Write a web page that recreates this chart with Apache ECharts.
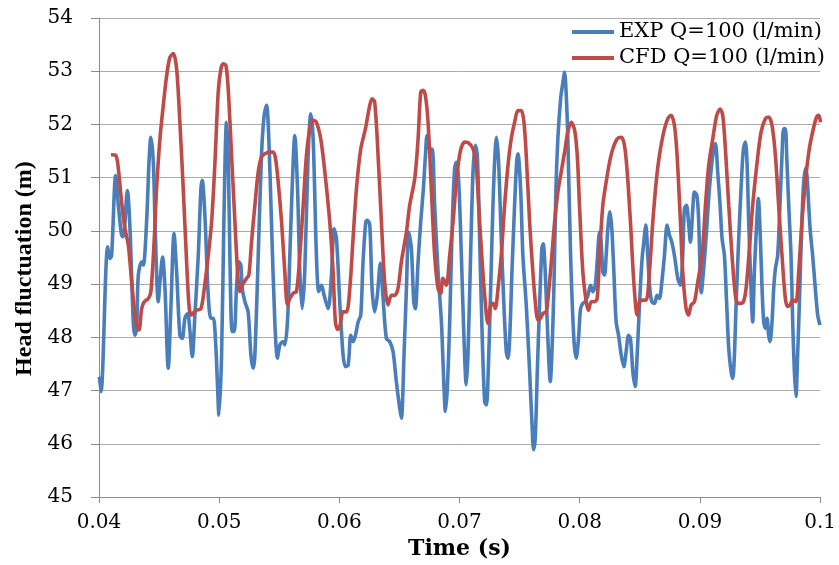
<!DOCTYPE html>
<html><head><meta charset="utf-8">
<script src="https://cdn.jsdelivr.net/npm/echarts@6/dist/echarts.min.js"></script>
<style>html,body{margin:0;padding:0;background:#fff}#c{width:839px;height:565px}</style>
</head><body><div id="c"></div>
<script>
const seriesNames = ['EXP Q=100 (l/min)', 'CFD Q=100 (l/min)'];
const xRange = [0.04, 0.1];
const yRange = [45, 54];

const expTime = [0.04003,0.04017,0.04072,0.04091,0.04105,0.04139,0.04161,0.04188,0.04202,0.04236,0.04258,0.04285,0.04299,0.04313,0.04327,0.04355,0.04369,0.04396,0.04416,0.04432,0.04452,0.04466,0.04493,0.04507,0.04529,0.04549,0.04576,0.04599,0.04624,0.04646,0.04673,0.04693,0.04715,0.04737,0.04757,0.04776,0.04798,0.04826,0.04848,0.04859,0.04881,0.04909,0.04931,0.04951,0.04970,0.04986,0.04998,0.05020,0.05039,0.05061,0.05075,0.05089,0.05108,0.05125,0.05144,0.05164,0.05180,0.05192,0.05214,0.05241,0.05264,0.05283,0.05297,0.05325,0.05352,0.05374,0.05394,0.05413,0.05435,0.05463,0.05485,0.05505,0.05532,0.05546,0.05568,0.05588,0.05607,0.05629,0.05652,0.05671,0.05690,0.05712,0.05740,0.05762,0.05782,0.05809,0.05829,0.05851,0.05873,0.05906,0.05934,0.05956,0.05976,0.06003,0.06031,0.06050,0.06073,0.06095,0.06114,0.06134,0.06156,0.06178,0.06197,0.06220,0.06233,0.06253,0.06272,0.06294,0.06316,0.06341,0.06364,0.06391,0.06419,0.06447,0.06474,0.06502,0.06516,0.06538,0.06558,0.06577,0.06599,0.06619,0.06632,0.06655,0.06677,0.06699,0.06716,0.06729,0.06746,0.06771,0.06793,0.06821,0.06849,0.06871,0.06882,0.06898,0.06918,0.06940,0.06959,0.06973,0.06993,0.07015,0.07037,0.07056,0.07070,0.07092,0.07112,0.07131,0.07148,0.07167,0.07189,0.07209,0.07223,0.07236,0.07259,0.07278,0.07297,0.07308,0.07325,0.07347,0.07369,0.07389,0.07403,0.07417,0.07436,0.07458,0.07475,0.07486,0.07508,0.07527,0.07555,0.07583,0.07602,0.07616,0.07630,0.07647,0.07666,0.07685,0.07696,0.07713,0.07735,0.07755,0.07768,0.07785,0.07802,0.07818,0.07841,0.07860,0.07874,0.07888,0.07901,0.07924,0.07951,0.07971,0.07990,0.08007,0.08026,0.08045,0.08068,0.08090,0.08109,0.08129,0.08145,0.08165,0.08178,0.08192,0.08206,0.08220,0.08234,0.08251,0.08267,0.08284,0.08303,0.08323,0.08345,0.08367,0.08386,0.08406,0.08422,0.08442,0.08461,0.08478,0.08497,0.08517,0.08533,0.08550,0.08566,0.08583,0.08600,0.08622,0.08644,0.08663,0.08683,0.08705,0.08727,0.08747,0.08766,0.08788,0.08816,0.08838,0.08857,0.08871,0.08888,0.08905,0.08921,0.08941,0.08954,0.08974,0.08988,0.09012,0.09029,0.09051,0.09079,0.09107,0.09129,0.09148,0.09168,0.09184,0.09204,0.09223,0.09240,0.09259,0.09273,0.09287,0.09301,0.09323,0.09342,0.09362,0.09378,0.09392,0.09406,0.09425,0.09439,0.09453,0.09473,0.09486,0.09503,0.09517,0.09531,0.09545,0.09558,0.09572,0.09583,0.09600,0.09614,0.09628,0.09647,0.09666,0.09683,0.09697,0.09711,0.09722,0.09739,0.09758,0.09772,0.09786,0.09799,0.09813,0.09827,0.09844,0.09860,0.09877,0.09891,0.09905,0.09919,0.09938,0.09960,0.09980,0.09999];
const expHead = [47.26,46.98,49.70,49.48,49.54,51.04,50.48,49.92,49.89,50.76,50.04,48.29,48.04,48.17,49.17,49.42,49.36,50.17,51.29,51.76,51.29,50.17,48.67,49.04,49.51,48.92,47.42,48.61,49.95,49.23,48.04,47.98,48.36,48.45,48.11,47.64,48.42,49.54,50.79,50.95,50.29,48.79,48.36,48.36,47.92,47.10,46.54,47.67,50.17,52.04,51.42,49.54,48.11,48.11,48.92,49.42,49.36,48.92,48.67,48.48,47.67,47.42,47.67,49.54,51.42,52.17,52.36,51.73,50.17,48.29,47.61,47.86,47.92,47.86,48.29,49.54,50.79,51.79,50.79,49.23,48.54,49.23,51.42,52.20,51.73,49.54,48.86,48.98,48.79,48.54,49.17,50.04,49.85,48.67,47.67,47.45,47.48,48.04,47.92,48.04,48.29,48.42,49.42,50.17,50.20,50.11,48.92,48.48,48.79,49.39,48.73,47.98,47.92,47.73,47.17,46.67,46.48,47.67,48.92,49.98,49.67,48.67,48.54,49.42,50.17,50.79,51.42,51.79,51.54,51.54,50.48,49.23,48.29,47.04,46.61,47.04,48.29,50.17,51.17,51.29,50.92,49.54,47.98,47.11,47.67,49.54,51.11,51.61,51.42,49.86,47.98,46.79,46.73,47.17,48.92,50.48,51.54,51.76,51.29,49.86,48.61,47.73,47.61,47.98,49.23,50.48,51.29,51.45,50.79,49.54,48.61,47.36,46.42,45.89,46.11,47.36,48.61,49.67,49.76,49.23,47.98,47.17,47.67,48.92,50.79,51.73,52.48,52.79,52.98,52.54,51.73,49.54,47.98,47.61,47.98,48.54,48.64,48.67,48.79,48.98,48.86,48.98,49.42,49.98,49.79,49.23,49.17,49.54,50.04,50.36,50.04,49.23,48.29,48.04,47.67,47.45,47.73,48.04,47.98,47.36,47.08,47.67,48.61,49.42,49.79,50.11,49.54,48.92,48.67,48.64,48.79,48.73,49.04,49.54,50.11,49.92,49.79,49.54,49.11,48.98,49.54,50.42,50.48,50.17,49.79,50.42,50.73,50.67,50.29,48.84,49.23,49.86,50.79,51.42,51.64,51.11,50.48,49.86,49.54,48.61,47.79,47.36,47.23,47.67,48.61,49.86,50.79,51.54,51.67,51.29,50.17,48.92,48.29,49.23,50.17,50.61,49.86,48.92,48.29,48.17,48.36,48.04,47.92,48.29,48.92,49.29,49.54,50.48,51.42,51.92,51.92,51.42,50.48,49.54,48.29,47.36,46.89,47.67,48.61,49.86,50.79,51.17,51.04,50.48,49.98,49.54,48.92,48.42,48.23];

const cfdTime = [0.04100,0.04139,0.04161,0.04188,0.04216,0.04244,0.04272,0.04294,0.04313,0.04333,0.04355,0.04377,0.04410,0.04432,0.04460,0.04479,0.04507,0.04535,0.04563,0.04590,0.04618,0.04646,0.04673,0.04701,0.04729,0.04751,0.04770,0.04793,0.04812,0.04848,0.04876,0.04909,0.04937,0.04964,0.04992,0.05014,0.05034,0.05056,0.05075,0.05103,0.05131,0.05153,0.05172,0.05192,0.05228,0.05247,0.05269,0.05297,0.05325,0.05352,0.05380,0.05422,0.05449,0.05469,0.05491,0.05519,0.05546,0.05568,0.05588,0.05616,0.05643,0.05671,0.05699,0.05726,0.05754,0.05782,0.05809,0.05845,0.05879,0.05920,0.05948,0.05967,0.05986,0.06003,0.06031,0.06059,0.06087,0.06114,0.06142,0.06178,0.06217,0.06253,0.06272,0.06294,0.06322,0.06350,0.06377,0.06405,0.06433,0.06461,0.06488,0.06516,0.06558,0.06585,0.06627,0.06655,0.06677,0.06696,0.06716,0.06738,0.06765,0.06793,0.06821,0.06843,0.06862,0.06890,0.06918,0.06946,0.06973,0.07005,0.07042,0.07070,0.07112,0.07139,0.07159,0.07181,0.07209,0.07236,0.07259,0.07278,0.07297,0.07320,0.07347,0.07375,0.07403,0.07430,0.07458,0.07486,0.07514,0.07536,0.07555,0.07583,0.07610,0.07638,0.07652,0.07674,0.07694,0.07721,0.07744,0.07768,0.07791,0.07818,0.07846,0.07874,0.07901,0.07929,0.07957,0.07980,0.07998,0.08026,0.08054,0.08073,0.08095,0.08123,0.08145,0.08165,0.08192,0.08220,0.08248,0.08275,0.08312,0.08345,0.08372,0.08395,0.08422,0.08450,0.08478,0.08497,0.08525,0.08553,0.08580,0.08608,0.08636,0.08663,0.08699,0.08733,0.08760,0.08788,0.08810,0.08838,0.08857,0.08885,0.08905,0.08927,0.08954,0.08982,0.09018,0.09046,0.09073,0.09107,0.09140,0.09168,0.09190,0.09212,0.09240,0.09267,0.09295,0.09315,0.09334,0.09362,0.09384,0.09412,0.09439,0.09473,0.09509,0.09545,0.09572,0.09600,0.09628,0.09655,0.09683,0.09711,0.09730,0.09750,0.09772,0.09799,0.09822,0.09849,0.09877,0.09910,0.09944,0.09971,0.09988,0.10004];
const cfdHead = [51.43,51.42,51.17,50.54,50.04,49.73,49.04,48.54,48.23,48.14,48.54,48.67,48.73,48.86,49.86,50.79,51.73,52.36,52.92,53.26,53.33,53.04,52.04,50.79,49.42,48.54,48.42,48.48,48.51,48.54,48.92,49.54,50.17,51.25,52.61,53.04,53.14,53.11,52.67,51.42,50.17,49.23,48.86,48.98,49.11,49.17,49.79,50.48,51.11,51.39,51.45,51.48,51.48,51.36,50.92,50.17,49.23,48.61,48.73,48.83,48.86,49.54,50.48,51.42,51.92,52.08,52.04,51.73,51.11,50.17,49.23,48.29,48.15,48.20,48.48,48.48,48.92,49.86,50.79,51.54,51.92,52.36,52.48,52.42,51.42,50.17,49.04,48.61,48.79,48.79,48.92,49.42,49.98,50.48,50.98,51.73,52.61,52.64,52.54,52.04,50.79,49.54,48.92,48.83,49.11,48.98,49.54,50.17,50.92,51.48,51.67,51.66,51.54,51.23,50.48,49.67,48.79,48.26,48.61,48.64,48.54,48.92,49.54,50.48,51.23,51.73,52.04,52.26,52.26,52.04,51.42,50.17,49.23,48.48,48.33,48.36,48.45,48.48,48.92,49.54,50.17,50.73,51.11,51.48,51.86,52.04,51.90,51.40,50.48,49.23,48.67,48.51,48.67,48.67,48.73,49.54,50.48,50.92,51.29,51.54,51.73,51.76,51.61,51.11,50.17,49.04,48.42,48.67,48.70,48.70,49.23,50.17,50.92,51.42,51.86,52.11,52.17,51.98,51.42,50.17,49.23,48.54,48.42,48.61,48.67,49.04,49.54,50.48,51.23,51.73,52.17,52.29,52.17,51.54,50.48,49.54,48.79,48.64,48.64,48.67,48.92,49.67,50.48,51.23,51.86,52.11,52.14,51.98,51.42,50.48,49.54,48.73,48.58,48.61,48.70,48.67,49.23,50.17,50.92,51.54,51.92,52.14,52.17,52.04];

const pairs = (xs, ys) => xs.map((x, i) => [x, ys[i]]);
const serif = 'DejaVu Serif';
const gridGray = '#acacac';
const axisGray = '#8c8c8c';

const chart = echarts.init(document.getElementById('c'), null, {renderer: 'canvas'});
chart.setOption({
  animation: false,
  backgroundColor: '#ffffff',
  grid: {left: 99, right: 17, top: 18, bottom: 67, containLabel: false},
  legend: {
    data: seriesNames,
    orient: 'vertical',
    left: 567,
    top: 16,
    icon: 'rect',
    itemWidth: 42,
    itemHeight: 4,
    itemGap: 4,
    textStyle: {fontFamily: serif, fontSize: 21, color: '#000', lineHeight: 22}
  },
  xAxis: {
    type: 'value',
    min: xRange[0], max: xRange[1], interval: 0.01,
    name: 'Time (s)',
    nameLocation: 'middle',
    nameGap: 38,
    nameTextStyle: {fontFamily: serif, fontWeight: 'bold', fontSize: 22, color: '#000'},
    axisLine: {show: true, lineStyle: {color: axisGray, width: 1}},
    axisTick: {show: true, inside: false, length: 6, lineStyle: {color: axisGray}},
    axisLabel: {fontFamily: serif, fontSize: 20, color: '#000', margin: 16},
    splitLine: {show: false}
  },
  yAxis: {
    type: 'value',
    min: yRange[0], max: yRange[1], interval: 1,
    name: 'Head fluctuation (m)',
    nameLocation: 'middle',
    nameGap: 61,
    nameTextStyle: {fontFamily: 'Liberation Serif', fontWeight: 'bold', fontSize: 24, color: '#000', padding: [0, 22, 0, 0]},
    axisLine: {show: true, lineStyle: {color: axisGray, width: 1}},
    axisTick: {show: true, inside: false, length: 8, lineStyle: {color: axisGray}},
    axisLabel: {fontFamily: serif, fontSize: 20, color: '#000', margin: 26},
    splitLine: {show: true, lineStyle: {color: gridGray, width: 1}}
  },
  series: [
    {
      name: seriesNames[0], type: 'line', data: pairs(expTime, expHead),
      showSymbol: false, smooth: 0.3, color: '#4a7ebb',
      lineStyle: {width: 3.6, color: '#4a7ebb'}, z: 2
    },
    {
      name: seriesNames[1], type: 'line', data: pairs(cfdTime, cfdHead),
      showSymbol: false, smooth: 0.3, color: '#be4b48',
      lineStyle: {width: 3.6, color: '#be4b48'}, z: 3
    }
  ]
});
</script>
</body></html>
